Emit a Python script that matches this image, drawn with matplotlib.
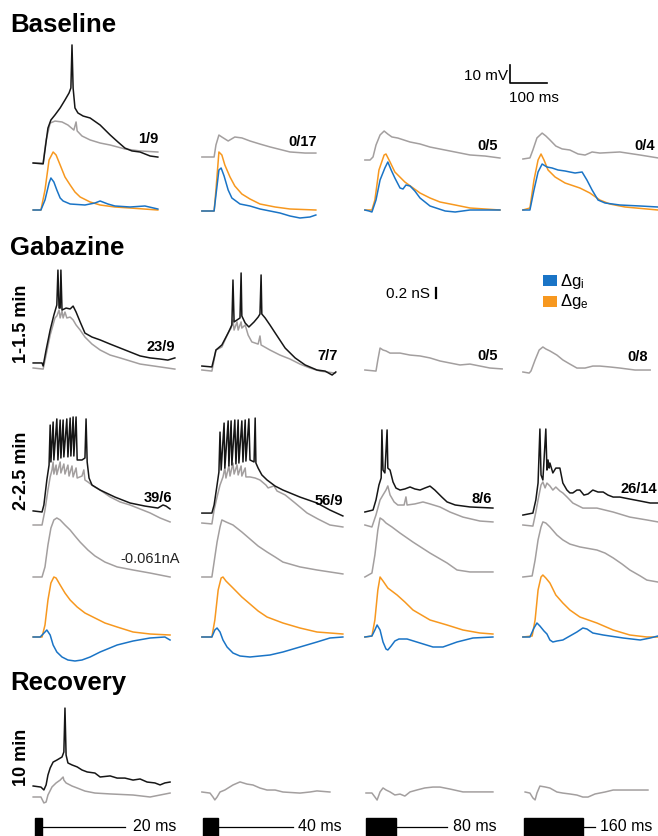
import numpy as np
import matplotlib.pyplot as plt
from matplotlib.patches import Rectangle

plt.rcParams['font.family'] = ['Liberation Sans', 'DejaVu Sans']
plt.rcParams['mathtext.default'] = 'regular'

# ---- traces: (time ms from stimulus onset, value) ; Vm in mV, conductance in nS ----
# Baseline
base_black_1 = [(-5, 0), (22, -0.5), (27, 7.2), (35, 19.4), (43, 23.9), (54, 26.7), (68, 30.6), (81, 35), (92, 38.9),
                (97, 41.7), (100, 65.6), (103, 41.7), (108, 30.6), (116, 27.8), (130, 26.1), (149, 25), (176, 21.1),
                (203, 15.6), (224, 11.7), (243, 8.3), (262, 6.7), (284, 6.1), (311, 3.9), (332, 3.3)]
base_gray_1 = [(-5, 0), (22, 0), (30, 12.8), (41, 22.2), (54, 23.3), (73, 22.8), (89, 21.1), (105, 18.3), (111, 22.8),
               (114, 17.8), (127, 15), (149, 12.8), (176, 11.1), (203, 10), (243, 7.8), (284, 6.7), (332, 6.1)]
base_ge_1 = [(-5, 0), (16, 0), (27, 0.4), (38, 1.0), (49, 1.16), (57, 1.1), (68, 0.9), (81, 0.66), (95, 0.5),
             (108, 0.36), (122, 0.26), (149, 0.16), (176, 0.1), (216, 0.06), (257, 0.04), (332, 0)]
base_gi_1 = [(-5, 0), (16, 0), (27, 0.2), (38, 0.54), (43, 0.64), (51, 0.56), (59, 0.4), (68, 0.24), (76, 0.18),
             (95, 0.12), (135, 0.1), (162, 0.14), (176, 0.18), (197, 0.12), (216, 0.08), (257, 0.06), (297, 0.08),
             (332, 0.02)]

base_gray_2 = [(-3, 0), (30, 0), (35, 6.7), (43, 12.2), (51, 11.1), (68, 8.9), (86, 11.1), (105, 10.6), (127, 8.9),
               (154, 7.2), (181, 5.6), (235, 2.8), (276, 2.2), (305, 2.2)]
base_ge_2 = [(-3, 0), (30, 0), (35, 0.42), (43, 1.18), (51, 1.12), (59, 0.92), (73, 0.68), (86, 0.5), (105, 0.34),
             (127, 0.24), (154, 0.14), (195, 0.08), (235, 0.04), (305, 0.02)]
base_gi_2 = [(-3, 0), (30, 0), (35, 0.32), (43, 0.82), (49, 0.86), (57, 0.7), (68, 0.42), (78, 0.26), (100, 0.14),
             (127, 0.1), (154, 0.04), (181, 0), (208, -0.04), (235, -0.1), (262, -0.14), (289, -0.12), (305, -0.08)]

base_gray_3 = [(-3, 0), (11, 0), (19, 1.7), (27, 8.3), (38, 13.9), (49, 16.1), (59, 14.4), (70, 12.8), (86, 12.2),
               (119, 10), (146, 8.9), (173, 7.2), (227, 5), (281, 2.8), (322, 2.2), (362, 1.1)]
base_ge_3 = [(-3, 0), (16, 0), (24, 0.2), (35, 0.8), (49, 1.1), (54, 1.12), (65, 0.96), (78, 0.76), (105, 0.56),
             (146, 0.34), (173, 0.24), (200, 0.16), (241, 0.1), (281, 0.04), (362, 0)]
base_gi_3 = [(-3, 0), (8, -0.02), (16, -0.04), (27, 0.2), (38, 0.6), (51, 0.84), (59, 0.96), (68, 0.8), (78, 0.64),
             (92, 0.44), (100, 0.42), (108, 0.5), (119, 0.48), (132, 0.38), (146, 0.24), (173, 0.08), (214, -0.02),
             (241, -0.04), (281, 0), (362, 0)]

base_gray_4 = [(-3, 0), (16, 0.6), (24, 5), (35, 11.7), (49, 14.4), (59, 12.8), (70, 10.6), (86, 7.2), (103, 5.6),
               (124, 5), (146, 2.8), (165, 2.2), (184, 3.9), (205, 3.3), (259, 3.9), (314, 2.2), (362, 0.6)]
base_ge_4 = [(-3, 0), (16, 0.04), (27, 0.6), (38, 1.0), (46, 1.12), (54, 1.0), (65, 0.8), (84, 0.66), (111, 0.54),
             (151, 0.44), (178, 0.34), (205, 0.2), (232, 0.12), (273, 0.06), (362, 0)]
base_gi_4 = [(-3, 0), (16, 0), (27, 0.4), (38, 0.76), (49, 0.92), (62, 0.86), (76, 0.84), (92, 0.8), (111, 0.78),
             (124, 0.76), (138, 0.74), (157, 0.76), (170, 0.6), (184, 0.4), (200, 0.2), (219, 0.14), (259, 0.1),
             (314, 0.08), (362, 0.06)]

# Gabazine 1-1.5 min
gab1_black_1 = [(-5, 2.8), (19, 2.8), (22, 1.1), (30, 10), (41, 21.1), (51, 29.4), (59, 35), (62, 54.4), (65, 33.3),
                (68, 33.3), (70, 54.4), (73, 32.2), (84, 33.3), (95, 32.8), (103, 34.4), (111, 31.1), (122, 25.6),
                (135, 19.4), (154, 17.2), (176, 15.6), (203, 13.3), (230, 11.1), (257, 8.9), (284, 6.7), (311, 5.6),
                (338, 5), (359, 4.4), (378, 5.6)]
gab1_gray_1 = [(-5, 0), (22, -0.6), (30, 7.2), (41, 18.3), (54, 27.8), (59, 28.9), (65, 32.2), (68, 27.8), (73, 31.7),
               (76, 27.8), (81, 31.1), (86, 27.8), (95, 28.3), (103, 26.7), (111, 23.9), (122, 21.1), (135, 17.2),
               (154, 13.3), (176, 10), (203, 7.2), (230, 5.6), (284, 2.2), (338, 0.6), (378, -0.6)]
gab1_black_2 = [(-3, 2.2), (24, 1.7), (30, 6.7), (35, 11.1), (51, 13.9), (68, 20.6), (78, 25), (81, 50), (84, 26.7),
                (92, 27.8), (100, 28.9), (103, 53.9), (105, 30), (114, 26.1), (124, 23.9), (138, 26.7), (149, 29.4),
                (154, 31.1), (157, 52.8), (159, 31.1), (168, 28.9), (181, 25), (195, 20.6), (222, 12.2), (249, 6.7),
                (276, 2.8), (308, 0), (330, -0.6), (349, -2.8), (359, -1.1)]
gab1_gray_2 = [(-3, 0), (24, -0.6), (30, 5.6), (35, 11.1), (51, 12.8), (68, 20.6), (76, 23.3), (81, 27.8), (84, 22.2),
               (92, 26.7), (95, 22.2), (103, 26.7), (105, 23.3), (114, 25), (122, 19.4), (132, 15.6), (149, 14.4),
               (154, 18.9), (157, 13.9), (181, 11.1), (208, 8.3), (235, 6.1), (262, 3.3), (289, 1.1), (316, -0.6),
               (357, -1.7)]
gab1_gray_3 = [(-3, 0), (27, -0.6), (32, 5.6), (38, 12.2), (46, 11.1), (54, 10.6), (65, 9.4), (92, 9.4), (119, 8.3),
               (146, 7.8), (173, 6.7), (200, 5), (227, 3.9), (254, 2.8), (281, 3.3), (308, 2.2), (335, 1.1), (368, 0.6)]
gab1_gray_4 = [(-3, 0), (14, -0.6), (19, 0.6), (30, 6.7), (41, 12.2), (51, 13.9), (59, 12.8), (70, 11.7), (89, 9.4),
               (105, 6.7), (124, 4.4), (143, 2.2), (165, 2.2), (186, 3.3), (205, 3.3), (232, 2.8), (259, 2.2),
               (300, 1.1), (341, 1.1)]

# Gabazine 2-2.5 min
gab2_black_1 = [(-5, 0.6), (19, 0), (24, 3.9), (32, 17.8), (38, 26.1), (41, 48.3), (43, 27.8), (49, 50), (51, 28.9),
                (59, 51.7), (62, 28.9), (68, 51.1), (70, 30), (76, 51.1), (78, 30.6), (86, 51.7), (89, 30.6),
                (95, 52.2), (97, 31.1), (103, 52.8), (105, 31.1), (111, 52.8), (114, 28.9), (127, 28.9), (135, 30),
                (138, 51.7), (141, 27.8), (146, 18.9), (154, 15), (176, 12.2), (216, 8.3), (257, 5), (297, 3.3),
                (332, 2.2), (346, 3.9), (354, 3.3), (365, 1.7)]
gab2_gray_1 = [(-5, 0), (19, 0), (27, 8.3), (35, 19.4), (41, 26.7), (46, 30.6), (49, 35), (51, 28.3), (57, 33.3),
               (59, 28), (68, 35), (70, 28.9), (78, 33.9), (81, 28.3), (89, 33.3), (92, 27.2), (100, 32.8), (103, 26.7),
               (111, 31.7), (114, 26.1), (127, 27.2), (132, 30.6), (135, 25), (143, 23.9), (157, 21.7), (176, 19.4),
               (203, 15.6), (230, 12.8), (257, 11.1), (284, 8.9), (311, 6.7), (338, 3.9), (365, 1.7)]
gab2_hold_1 = [(-5, 0), (19, 0), (27, 5.6), (35, 17.8), (43, 27.2), (51, 31.7), (59, 32.8), (68, 31.7), (81, 28.9),
               (95, 26.1), (108, 22.8), (122, 19.4), (143, 15), (162, 11.7), (189, 8.3), (222, 5.6), (265, 3.9),
               (311, 2.2), (365, 0)]
gab2_ge_1 = [(-5, 0), (19, 0), (27, 0.24), (35, 0.74), (43, 1.08), (51, 1.2), (57, 1.18), (68, 1.04), (81, 0.88),
             (95, 0.74), (114, 0.6), (135, 0.48), (162, 0.38), (189, 0.28), (222, 0.2), (265, 0.1), (311, 0.06),
             (365, 0.04)]
gab2_gi_1 = [(-5, 0), (14, 0), (27, 0.1), (32, 0.14), (41, 0.04), (49, -0.16), (59, -0.3), (73, -0.4), (89, -0.46),
             (108, -0.48), (127, -0.46), (149, -0.4), (176, -0.3), (222, -0.16), (265, -0.08), (311, -0.02), (351, 0),
             (365, -0.06)]

gab2_black_2 = [(-3, -0.6), (24, -0.6), (30, 3.9), (38, 15), (43, 22.2), (46, 44.4), (49, 23.3), (57, 49.4),
                (59, 24.4), (68, 50.6), (70, 25.6), (76, 50.6), (78, 26.1), (86, 51.1), (89, 26.7), (95, 51.1),
                (97, 27.2), (105, 50.6), (108, 27.8), (114, 51.1), (116, 28.3), (124, 51.7), (127, 28.9), (138, 27.8),
                (141, 52.2), (143, 27.2), (149, 24.4), (159, 20.6), (173, 17.8), (195, 14.4), (216, 12.2), (262, 8.3),
                (308, 5), (343, 1.1), (378, -2.2)]
gab2_gray_2 = [(-3, 1.1), (24, 0.6), (30, 8.3), (38, 15.6), (46, 22.2), (54, 26.7), (59, 31.7), (62, 26.1), (70, 32.8),
               (73, 27.2), (81, 34.4), (84, 28.3), (92, 33.3), (95, 27.8), (103, 32.8), (105, 27.2), (114, 31.7),
               (116, 26.7), (127, 26.7), (141, 26.1), (154, 25), (170, 22.2), (176, 20.6), (192, 21.7), (200, 18.9),
               (222, 16.7), (249, 12.2), (281, 6.7), (311, 3.3), (343, 0), (378, -1.1)]
gab2_hold_2 = [(-3, 0), (24, 0), (30, 8.3), (38, 19.4), (46, 27.8), (51, 31.7), (62, 30.6), (81, 28.9), (105, 25),
               (127, 21.1), (149, 17.2), (173, 13.9), (195, 11.1), (216, 8.3), (262, 5.6), (308, 3.9), (343, 2.8),
               (378, 1.7)]
gab2_ge_2 = [(-3, 0), (24, 0), (32, 0.34), (41, 0.94), (49, 1.18), (54, 1.2), (62, 1.12), (81, 0.98), (105, 0.8),
             (127, 0.66), (149, 0.52), (173, 0.4), (216, 0.28), (262, 0.18), (308, 0.1), (378, 0.06)]
gab2_gi_2 = [(-3, 0), (24, 0), (32, 0.14), (38, 0.18), (46, 0.1), (54, -0.06), (65, -0.2), (81, -0.32), (100, -0.38),
             (127, -0.4), (154, -0.38), (181, -0.36), (216, -0.3), (262, -0.2), (308, -0.1), (343, -0.02), (378, 0)]

gab2_black_3 = [(-3, 0), (19, 1.1), (27, 6.7), (35, 15), (41, 18.9), (43, 45.6), (46, 23.3), (51, 21.7), (57, 45.6),
                (59, 24.4), (65, 23.3), (73, 16.7), (81, 13.3), (92, 12.2), (105, 12.8), (119, 13.9), (132, 12.8),
                (146, 12.2), (159, 13.3), (173, 14.4), (186, 12.2), (205, 8.3), (219, 5.6), (241, 3.9), (281, 2.8),
                (343, 2.2)]
gab2_gray_3 = [(-3, 0), (16, -1.1), (27, 5.6), (38, 13.9), (46, 16.7), (54, 19.4), (59, 21.7), (65, 16.7), (76, 12.8),
               (86, 11.1), (103, 11.1), (108, 15.6), (111, 11.1), (132, 11.7), (154, 12.8), (173, 11.7), (200, 10),
               (227, 7.2), (262, 4.4), (308, 2.2), (343, 1.7)]
gab2_hold_3 = [(-3, 0), (16, 2.2), (24, 12.2), (32, 26.1), (38, 32.8), (46, 31.7), (54, 30), (70, 27.8), (92, 24.4),
               (127, 19.4), (173, 13.3), (219, 7.8), (246, 3.9), (281, 2.8), (343, 2.8)]
gab2_ge_3 = [(-3, 0), (16, 0.02), (24, 0.34), (32, 0.94), (38, 1.2), (46, 1.12), (59, 0.98), (84, 0.84), (105, 0.7),
             (127, 0.54), (173, 0.34), (219, 0.24), (262, 0.14), (308, 0.08), (343, 0.06)]
gab2_gi_3 = [(-3, 0), (16, 0.02), (24, 0.14), (30, 0.24), (38, 0.14), (46, -0.1), (54, -0.24), (59, -0.26),
             (68, -0.18), (78, -0.08), (89, -0.04), (111, -0.04), (146, -0.12), (181, -0.2), (208, -0.2), (246, -0.1),
             (289, -0.02), (343, 0)]

gab2_black_4 = [(-3, -1.7), (24, -0.6), (32, 6.7), (38, 16.1), (43, 46.1), (46, 20.6), (51, 17.8), (59, 46.1),
                (62, 23.3), (65, 28.9), (68, 24.4), (70, 27.2), (78, 21.7), (86, 24.4), (97, 24.4), (105, 16.1),
                (116, 12.2), (124, 10.6), (132, 10.6), (143, 12.2), (151, 12.2), (162, 9.4), (173, 10), (186, 12.2),
                (200, 11.1), (214, 11.1), (227, 9.4), (241, 8.3), (259, 8.3), (286, 7.2), (314, 6.1), (341, 5), (362, 5)]
gab2_gray_4 = [(-3, 0), (24, -0.6), (32, 7.2), (38, 13.9), (46, 22.2), (51, 23.9), (57, 20.6), (62, 23.3), (70, 21.7),
               (78, 19.4), (86, 21.1), (97, 18.9), (105, 17.8), (116, 15.6), (132, 12.2), (159, 9.4), (197, 9.4),
               (241, 7.2), (286, 4.4), (332, 2.8), (362, 1.7)]
gab2_hold_4 = [(-3, 0), (22, 0.6), (30, 9.4), (38, 20.6), (46, 27.8), (51, 30.6), (59, 30), (70, 27.8), (89, 23.3),
               (105, 20.6), (124, 18.3), (151, 16.7), (197, 15), (219, 13.3), (241, 10.6), (265, 7.2), (286, 3.9),
               (314, 0.6), (332, -1.7), (362, -2.8)]
gab2_ge_4 = [(-3, 0), (22, 0.02), (30, 0.34), (38, 0.94), (46, 1.2), (51, 1.24), (59, 1.18), (70, 1.08), (86, 0.84),
             (105, 0.68), (124, 0.54), (151, 0.4), (197, 0.28), (241, 0.14), (286, 0.04), (332, 0), (362, 0)]
gab2_gi_4 = [(-3, 0), (16, 0), (27, 0.18), (35, 0.28), (43, 0.22), (54, 0.12), (62, 0.06), (70, -0.06), (78, -0.1),
             (89, -0.08), (105, -0.06), (124, 0.02), (143, 0.1), (159, 0.18), (170, 0.16), (186, 0.08), (214, 0.04),
             (268, -0.02), (314, -0.06), (341, -0.02), (362, 0.02)]

# Recovery 10 min
rec_black_1 = [(-5, 0), (16, -0.6), (24, -2.2), (30, 0.6), (35, 6.1), (41, 10), (49, 13.3), (59, 14.4), (73, 16.1),
               (78, 18.9), (81, 43.3), (84, 17.2), (89, 12.8), (100, 11.7), (114, 10.6), (127, 8.9), (141, 7.8),
               (162, 7.2), (176, 5), (203, 5.6), (222, 4.4), (243, 4.4), (265, 3.3), (284, 3.9), (303, 2.2),
               (324, 1.7), (338, 0.6), (351, 1.7), (365, 2.2)]
rec_gray_1 = [(-5, 0), (16, 0), (24, -3.3), (30, -2.8), (35, 1.1), (46, 5.6), (57, 7.8), (68, 9.4), (76, 11.1),
              (78, 9.4), (84, 7.8), (100, 6.1), (114, 5), (135, 3.3), (162, 2.2), (203, 1.7), (265, 1.1), (311, 0),
              (338, 1.1), (365, 2.2)]
rec_gray_2 = [(-3, 0), (19, -0.6), (27, -2.8), (32, -4.4), (38, -2.8), (46, 0), (59, 1.1), (81, 3.9), (100, 5.6),
              (119, 4.4), (135, 3.9), (154, 2.2), (173, 1.1), (195, 1.1), (216, 0), (262, -0.6), (289, 0), (308, 0.6),
              (343, 0)]
rec_gray_3 = [(0, 0), (16, 0), (24, -2.2), (30, -3.9), (38, 0.6), (46, 2.8), (54, 1.7), (65, 0.6), (78, -1.1),
              (92, -0.6), (105, -1.7), (119, 0.6), (138, 1.7), (159, 2.8), (181, 3.3), (200, 3.3), (227, 2.2),
              (262, 0.6), (308, 0.6), (343, 0.6)]
rec_gray_4 = [(3, 0), (16, -0.6), (24, -3.3), (30, -4.4), (35, -0.6), (43, 3.3), (57, 2.8), (70, 2.2), (89, 0),
              (105, -0.6), (124, -1.1), (143, -1.7), (159, -2.8), (173, -2.8), (192, -1.1), (219, 0), (241, 1.1),
              (286, 1.1), (335, 1.1)]

stim_ms = [20, 40, 80, 160]
stim_labels = ['20 ms', '40 ms', '80 ms', '160 ms']

base_counts = ['1/9', '0/17', '0/5', '0/4']
gab1_counts = ['23/9', '7/7', '0/5', '0/8']
gab2_counts = ['39/6', '56/9', '8/6', '26/14']

# ---- layout ----
W, H = 658, 836
PX_PER_MS = 0.37
PX_PER_MV = 1.8
PX_PER_NS = 50.0
ONSET_PX = [35, 203, 366, 524]
T0, T1 = -20, 400

BLACK = '#161616'
GRAY = '#a39f9f'
ORANGE = '#f7981f'
BLUE = '#1a74c6'

fig = plt.figure(figsize=(W / 100, H / 100), dpi=100)
axes = []
for on in ONSET_PX:
    left = on + T0 * PX_PER_MS
    ax = fig.add_axes([left / W, 0, (T1 - T0) * PX_PER_MS / W, 1])
    ax.set_xlim(T0, T1)
    ax.set_ylim(-H / PX_PER_MV, 0)
    ax.axis('off')
    axes.append(ax)


def draw(col, pts, base_px, color, unit='mV'):
    t, v = np.array(pts, dtype=float).T
    scale = 1.0 if unit == 'mV' else PX_PER_NS / PX_PER_MV
    axes[col].plot(t, -base_px / PX_PER_MV + v * scale, color=color, lw=1.1,
                   solid_joinstyle='round', clip_on=False)


def ftext(x, y, s, **kw):
    fig.text(x / W, 1 - y / H, s, **kw)


# baseline row
draw(0, base_gray_1, 163, GRAY)
draw(0, base_black_1, 163, BLACK)
draw(0, base_ge_1, 210, ORANGE, 'nS')
draw(0, base_gi_1, 210, BLUE, 'nS')
draw(1, base_gray_2, 157, GRAY)
draw(1, base_ge_2, 211, ORANGE, 'nS')
draw(1, base_gi_2, 211, BLUE, 'nS')
draw(2, base_gray_3, 160, GRAY)
draw(2, base_ge_3, 210, ORANGE, 'nS')
draw(2, base_gi_3, 210, BLUE, 'nS')
draw(3, base_gray_4, 159, GRAY)
draw(3, base_ge_4, 210, ORANGE, 'nS')
draw(3, base_gi_4, 210, BLUE, 'nS')

# gabazine 1-1.5 min
draw(0, gab1_gray_1, 368, GRAY)
draw(0, gab1_black_1, 368, BLACK)
draw(1, gab1_gray_2, 370, GRAY)
draw(1, gab1_black_2, 370, BLACK)
draw(2, gab1_gray_3, 370, GRAY)
draw(3, gab1_gray_4, 372, GRAY)

# gabazine 2-2.5 min
gab2 = [(gab2_black_1, gab2_gray_1, gab2_hold_1, gab2_ge_1, gab2_gi_1),
        (gab2_black_2, gab2_gray_2, gab2_hold_2, gab2_ge_2, gab2_gi_2),
        (gab2_black_3, gab2_gray_3, gab2_hold_3, gab2_ge_3, gab2_gi_3),
        (gab2_black_4, gab2_gray_4, gab2_hold_4, gab2_ge_4, gab2_gi_4)]
for c, (bk, gr, hd, ge, gi) in enumerate(gab2):
    draw(c, gr, 525, GRAY)
    draw(c, bk, 512, BLACK)
    draw(c, hd, 577, GRAY)
    draw(c, ge, 637, ORANGE, 'nS')
    draw(c, gi, 637, BLUE, 'nS')

# recovery
draw(0, rec_gray_1, 797, GRAY)
draw(0, rec_black_1, 786, BLACK)
draw(1, rec_gray_2, 792, GRAY)
draw(2, rec_gray_3, 793, GRAY)
draw(3, rec_gray_4, 792, GRAY)

# stimulus bars
line_end_ms = [243, 243, 219, 192]
label_ms = [265, 257, 235, 205]
for c, ax in enumerate(axes):
    ax.add_patch(Rectangle((0, -845 / PX_PER_MV), stim_ms[c], (845 - 818) / PX_PER_MV,
                           facecolor='black', edgecolor='black', clip_on=False))
    ax.plot([stim_ms[c], line_end_ms[c]], [-827 / PX_PER_MV] * 2, color='black', lw=0.9, clip_on=False)
    ax.text(label_ms[c], -827 / PX_PER_MV, stim_labels[c], fontsize=11.5, va='center', ha='left')

# scale bars (10 mV / 100 ms, 0.2 nS)
ax3 = axes[2]
sx = (510 - ONSET_PX[2]) / PX_PER_MS
sy = -83 / PX_PER_MV
ax3.plot([sx, sx, sx + 100], [sy + 10, sy, sy], color='black', lw=1.2, clip_on=False)
gx = (436 - ONSET_PX[2]) / PX_PER_MS
gy = -298 / PX_PER_MV
ax3.plot([gx, gx], [gy, gy + 0.2 * PX_PER_NS / PX_PER_MV], color='black', lw=1.6, clip_on=False)

ftext(508, 80, '10 mV', fontsize=11, ha='right', va='baseline')
ftext(534, 102, '100 ms', fontsize=11, ha='center', va='baseline')
ftext(430, 298, '0.2 nS', fontsize=11, ha='right', va='baseline')
ftext(180, 563, '-0.061nA', fontsize=10.5, ha='right', va='baseline', color='#222222')

# legend
fig.add_artist(Rectangle((543 / W, 1 - 286 / H), 14 / W, 11 / H, transform=fig.transFigure,
                         facecolor=BLUE, edgecolor='none'))
fig.add_artist(Rectangle((543 / W, 1 - 307 / H), 14 / W, 11 / H, transform=fig.transFigure,
                         facecolor=ORANGE, edgecolor='none'))
ftext(560, 286, r'$\Delta g_i$', fontsize=12, ha='left', va='baseline')
ftext(560, 306, r'$\Delta g_e$', fontsize=12, ha='left', va='baseline')

# titles and row labels
ftext(10, 32, 'Baseline', fontsize=18.5, fontweight='bold', va='baseline')
ftext(10, 255, 'Gabazine', fontsize=18.5, fontweight='bold', va='baseline')
ftext(10, 690, 'Recovery', fontsize=18.5, fontweight='bold', va='baseline')
ftext(21, 324, '1-1.5 min', fontsize=13, fontweight='bold', rotation=90, ha='center', va='center')
ftext(21, 471, '2-2.5 min', fontsize=13, fontweight='bold', rotation=90, ha='center', va='center')
ftext(21, 757, '10 min', fontsize=13, fontweight='bold', rotation=90, ha='center', va='center')

# spike counts
count_rows = [(base_counts, [158, 317, 498, 655], [143, 146, 150, 150]),
              (gab1_counts, [175, 338, 498, 648], [351, 360, 360, 361]),
              (gab2_counts, [172, 343, 492, 657], [502, 505, 503, 493])]
for labels, xs, ys in count_rows:
    for lab, x, y in zip(labels, xs, ys):
        ftext(x, y, lab, fontsize=10.5, fontweight='bold', ha='right', va='baseline')

fig.savefig('out.png', dpi=100)
